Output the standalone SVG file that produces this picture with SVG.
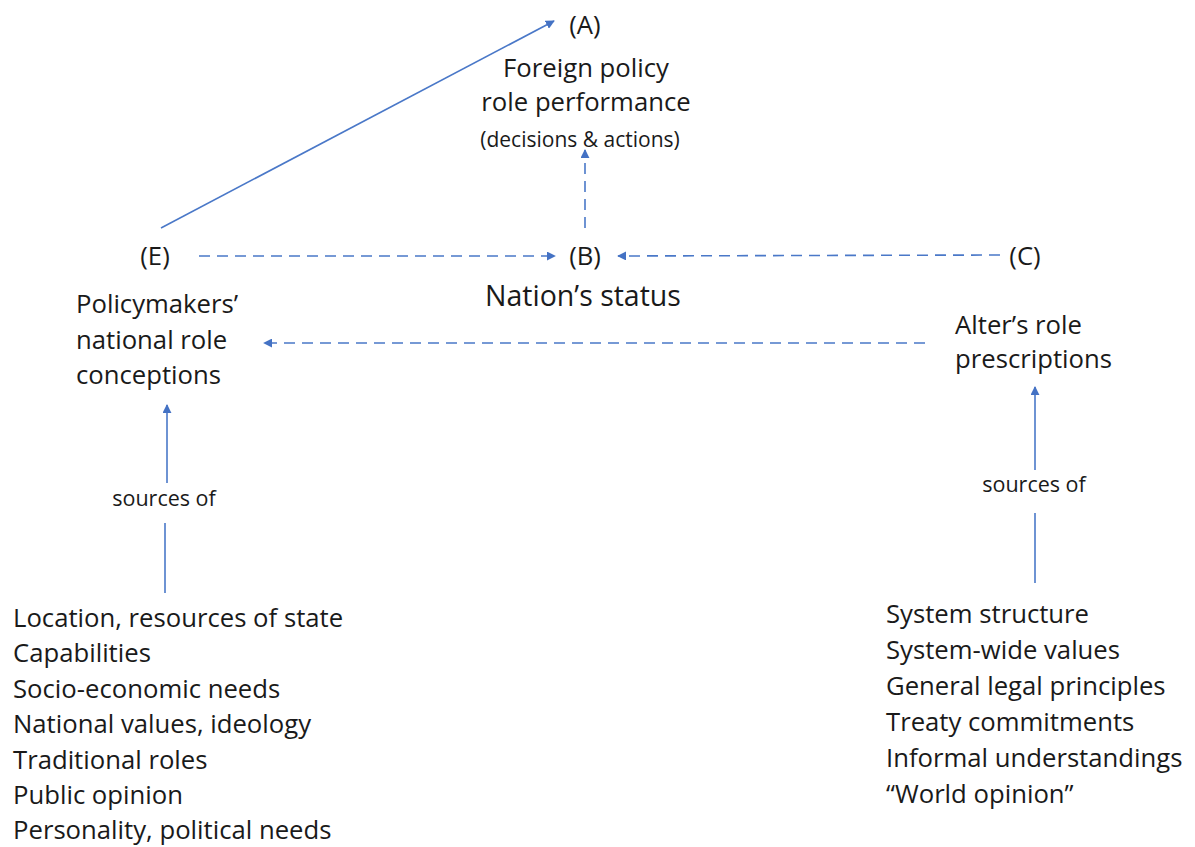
<svg xmlns="http://www.w3.org/2000/svg" width="1195" height="847" viewBox="0 0 1195 847">
<defs>
<style>
text{font-family:"Open Sans","Noto Sans",sans-serif;fill:#1a1a1a}
.t{font-size:25.7px}
.s{font-size:21.5px}
.c{text-anchor:middle}
.ln{stroke:#4a78c8;stroke-width:1.6;fill:none}
.d{stroke-dasharray:11 7}
</style>
<marker id="ah" viewBox="0 0 10 10" refX="9" refY="5" markerWidth="9" markerHeight="9" markerUnits="userSpaceOnUse" orient="auto">
<path d="M0,0 L10,5 L0,10 z" fill="#4472c4"/>
</marker>
</defs>
<rect width="1195" height="847" fill="#fff"/>
<g id="connectors">
<line class="ln" x1="161" y1="228" x2="554" y2="21" marker-end="url(#ah)"/>
<line class="ln d" x1="585" y1="228" x2="585" y2="150" marker-end="url(#ah)"/>
<line class="ln d" x1="199" y1="256" x2="555" y2="256" marker-end="url(#ah)"/>
<line class="ln d" x1="1000" y1="255" x2="618" y2="256" marker-end="url(#ah)"/>
<line class="ln d" x1="925" y1="343" x2="264" y2="343" marker-end="url(#ah)"/>
<line class="ln" x1="167" y1="483" x2="167" y2="405" marker-end="url(#ah)"/>
<line class="ln" x1="165" y1="523" x2="165" y2="593" stroke="#8ab0e0"/>
<line class="ln" x1="1035" y1="470" x2="1035" y2="387" marker-end="url(#ah)"/>
<line class="ln" x1="1035" y1="513" x2="1035" y2="583"/>
</g>
<g id="nodeA">
<text class="t c" x="585" y="34" font-size="28">(A)</text>
<text class="t c" x="586" y="77">Foreign policy</text>
<text class="t c" x="586" y="111">role performance</text>
<text class="c" x="580" y="147" font-size="21">(decisions  &amp; actions)</text>
</g>
<g id="nodeB">
<text class="t c" x="585" y="265" font-size="28">(B)</text>
<text class="c" x="583" y="306" font-size="28.5">Nation’s status</text>
</g>
<g id="nodeC">
<text class="t c" x="1025" y="265" font-size="28">(C)</text>
<text class="t" x="955" y="334">Alter’s role</text>
<text class="t" x="955" y="368">prescriptions</text>
</g>
<g id="nodeE">
<text class="t c" x="155" y="265" font-size="28">(E)</text>
<text class="t" x="76" y="313">Policymakers’</text>
<text class="t" x="76" y="349">national role</text>
<text class="t" x="76" y="384">conceptions</text>
</g>
<g id="labelLeft">
<text class="s c" x="164" y="506">sources of</text>
</g>
<g id="labelRight">
<text class="s c" x="1034" y="492">sources of</text>
</g>
<g id="sourcesLeft">
<text class="t" x="13" y="627">Location, resources of state</text>
<text class="t" x="13" y="662">Capabilities</text>
<text class="t" x="13" y="698">Socio-economic needs</text>
<text class="t" x="13" y="733">National values, ideology</text>
<text class="t" x="13" y="769">Traditional roles</text>
<text class="t" x="13" y="804">Public opinion</text>
<text class="t" x="13" y="839">Personality, political needs</text>
</g>
<g id="sourcesRight">
<text class="t" x="886" y="623">System structure</text>
<text class="t" x="886" y="659">System-wide values</text>
<text class="t" x="886" y="695">General legal principles</text>
<text class="t" x="886" y="731">Treaty commitments</text>
<text class="t" x="886" y="767">Informal understandings</text>
<text class="t" x="886" y="803">“World opinion”</text>
</g>
</svg>
